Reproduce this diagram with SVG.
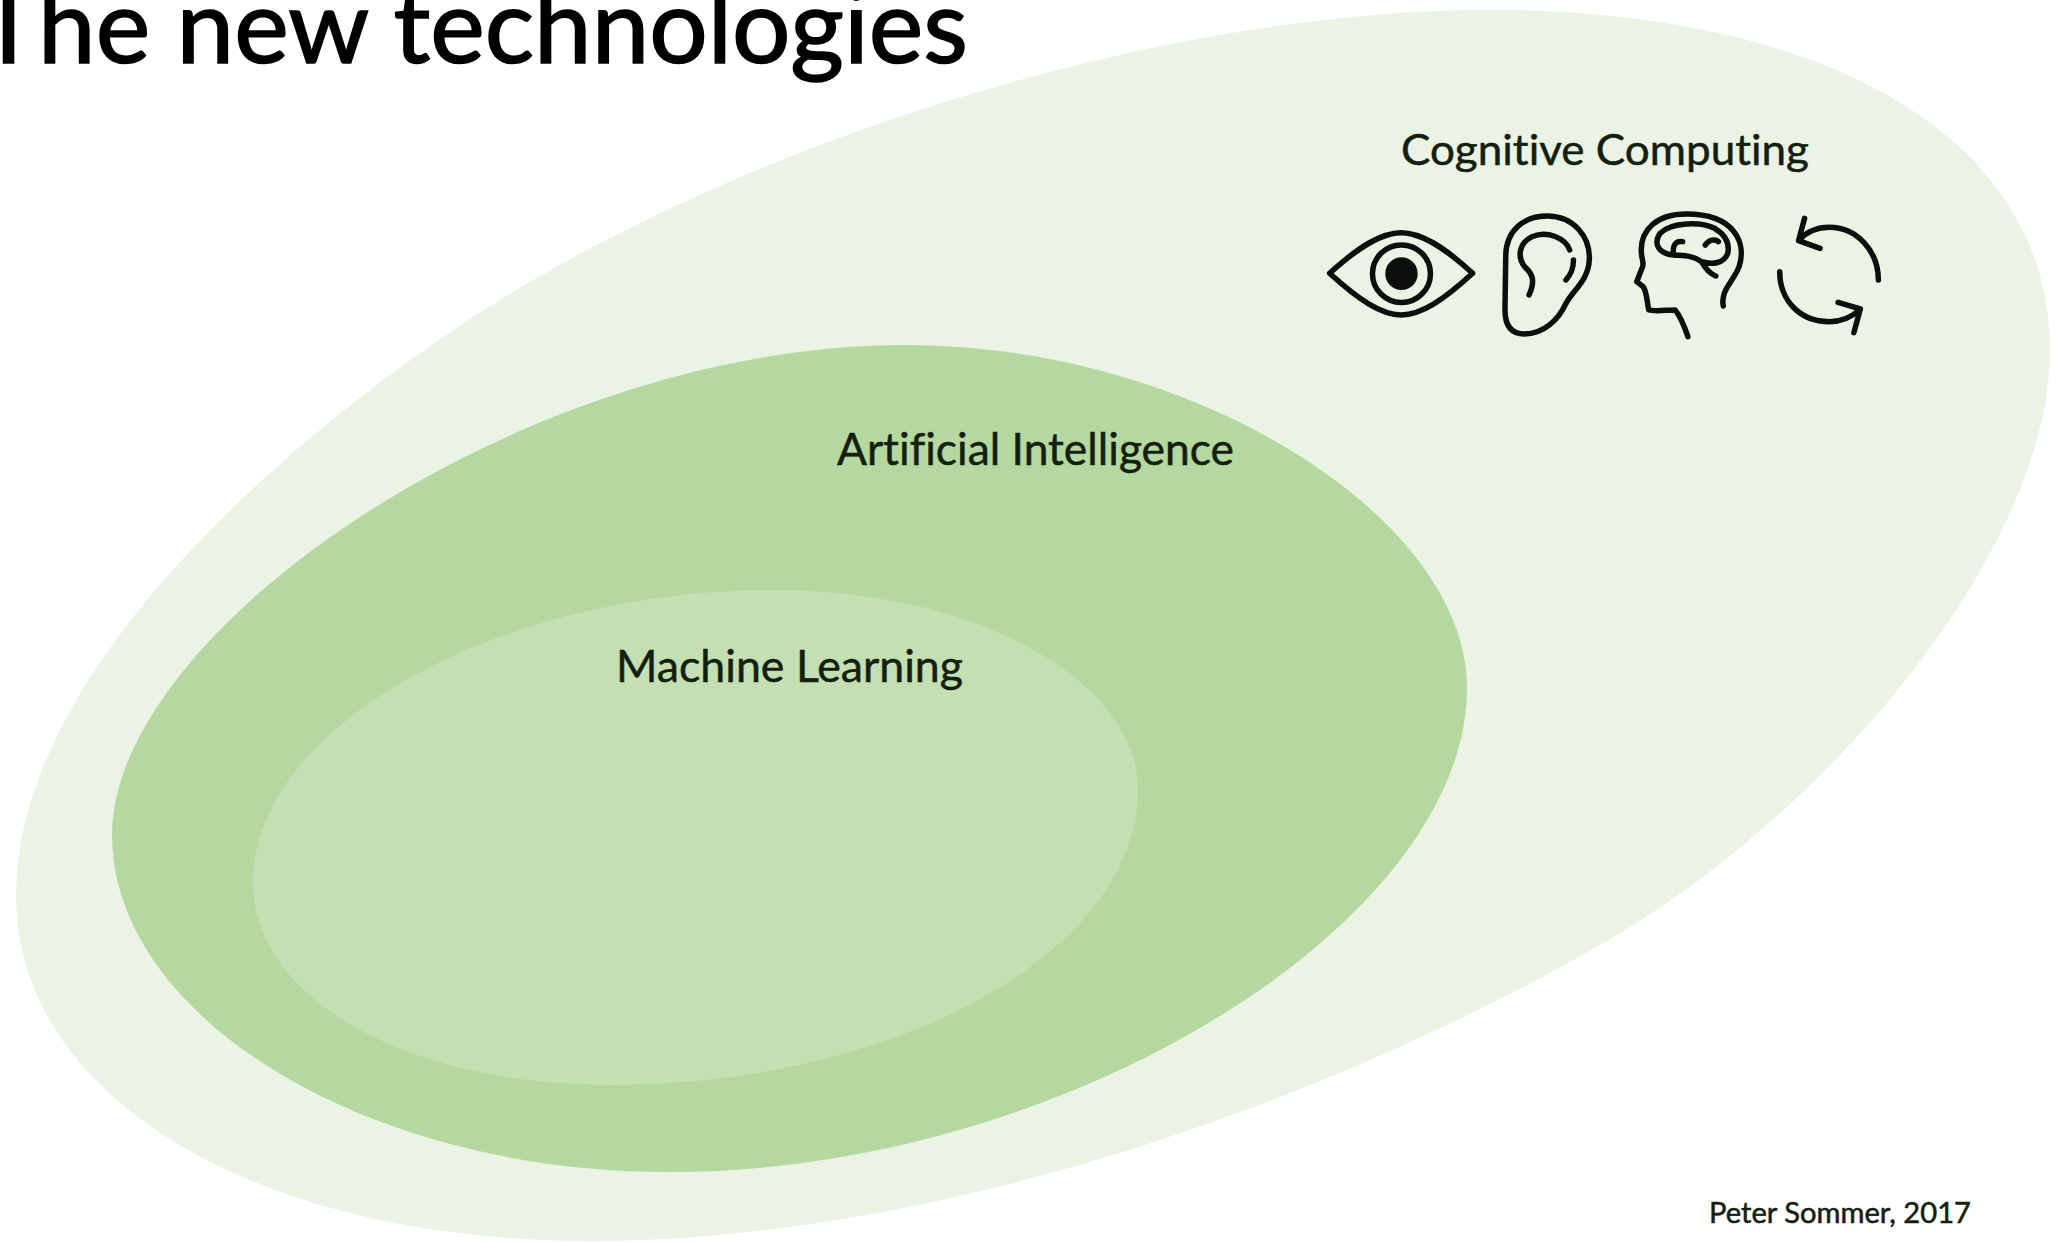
<svg xmlns="http://www.w3.org/2000/svg" width="2063" height="1242" viewBox="0 0 2063 1242">
<style>
text{font-family:"Lato","Noto Sans",sans-serif;fill:#14200f;font-variant-ligatures:none;stroke:#14200f;stroke-width:.5}
.ic path,.ic circle.r{fill:none;stroke:#0d0f0c;stroke-width:5.5;stroke-linecap:round;stroke-linejoin:round;vector-effect:non-scaling-stroke}
</style>
<rect width="2063" height="1242" fill="#fff"/>
<text id="title" x="-22" y="63" font-size="103" textLength="990" lengthAdjust="spacingAndGlyphs" style="fill:#000;stroke:#000;stroke-width:1.6">The new technologies</text>
<g id="cognitive-computing">
<path fill="#EBF3E5" d="M1490 10C1830 10 2050 140 2050 350C2050 550 1828 813 1607 941C1330 1101 940 1241 590 1241C260 1241 16 1100 16 895C16 675 278 447 461 325C736 142 1160 10 1490 10Z"/>
<text x="1401" y="165" font-size="43" textLength="408" lengthAdjust="spacingAndGlyphs">Cognitive Computing</text>
</g>
<g id="artificial-intelligence">
<path fill="#B5D8A1" d="M905 345C1195 345 1467 518 1467 688C1467 923 1065 1172 670 1172C361 1172 112 1015 112 835C112 630 525 345 905 345Z"/>
<text x="837" y="465" font-size="44" textLength="397" lengthAdjust="spacingAndGlyphs">Artificial Intelligence</text>
</g>
<g id="machine-learning">
<path fill="#C4DFB2" d="M775 590C975 590 1138 680 1138 790C1138 952 896 1085 610 1085C409 1085 253 1000 253 882C253 728 495 590 775 590Z"/>
<text x="616" y="682" font-size="45" textLength="347" lengthAdjust="spacingAndGlyphs">Machine Learning</text>
</g>
<text id="credit" x="1709" y="1223" font-size="28" textLength="262" lengthAdjust="spacingAndGlyphs">Peter Sommer, 2017</text>
<g class="ic" transform="translate(1310 110) scale(.3764 .3333)">
<g id="icon-eye">
<path d="M52 490C130 410 190 368 242 368C295 368 355 410 432 490C355 570 295 615 242 615C190 615 130 570 52 490Z"/>
<circle class="r" cx="243" cy="491" r="77" transform="translate(243 491) scale(1 1.12) translate(-243 -491)"/>
<ellipse cx="243" cy="491" rx="43" ry="49" fill="#0d0f0c"/>
</g>
<g id="icon-ear">
<path d="M518 600L520 440C520 360 570 318 630 318C700 318 745 380 742 450C740 510 700 540 680 580C660 630 620 672 570 672C530 672 518 640 518 600Z"/>
<path d="M582 555C600 510 590 490 570 470C550 440 555 400 590 380C630 360 680 385 690 420"/>
<path d="M700 450C700 475 695 490 680 510"/>
</g>
<g id="icon-head">
<path d="M1098 588C1090 540 1125 515 1140 470C1160 400 1130 312 1000 312C920 312 880 360 880 420C880 450 890 460 882 475L868 515L885 530C895 545 895 575 900 600C915 605 950 600 970 600C985 620 995 650 1004 680"/>
<path d="M1078 498C1060 490 1050 475 1040 455C1010 430 975 440 950 432C920 420 915 395 930 370C960 335 1040 335 1075 355C1105 375 1115 400 1110 430C1100 460 1070 465 1040 455"/>
<path d="M965 425C965 400 975 392 990 395"/>
<path d="M1050 405C1060 390 1075 385 1085 395"/>
</g>
<g id="icon-cycle">
<path d="M1510 510C1510 420 1450 352 1380 352C1350 352 1320 365 1300 390"/>
<path d="M1314 325L1298 392L1355 415"/>
<path d="M1248 485C1248 570 1300 635 1380 635C1410 635 1440 620 1460 600"/>
<path d="M1403 577L1462 597L1445 668"/>
</g>
</g>
</svg>
